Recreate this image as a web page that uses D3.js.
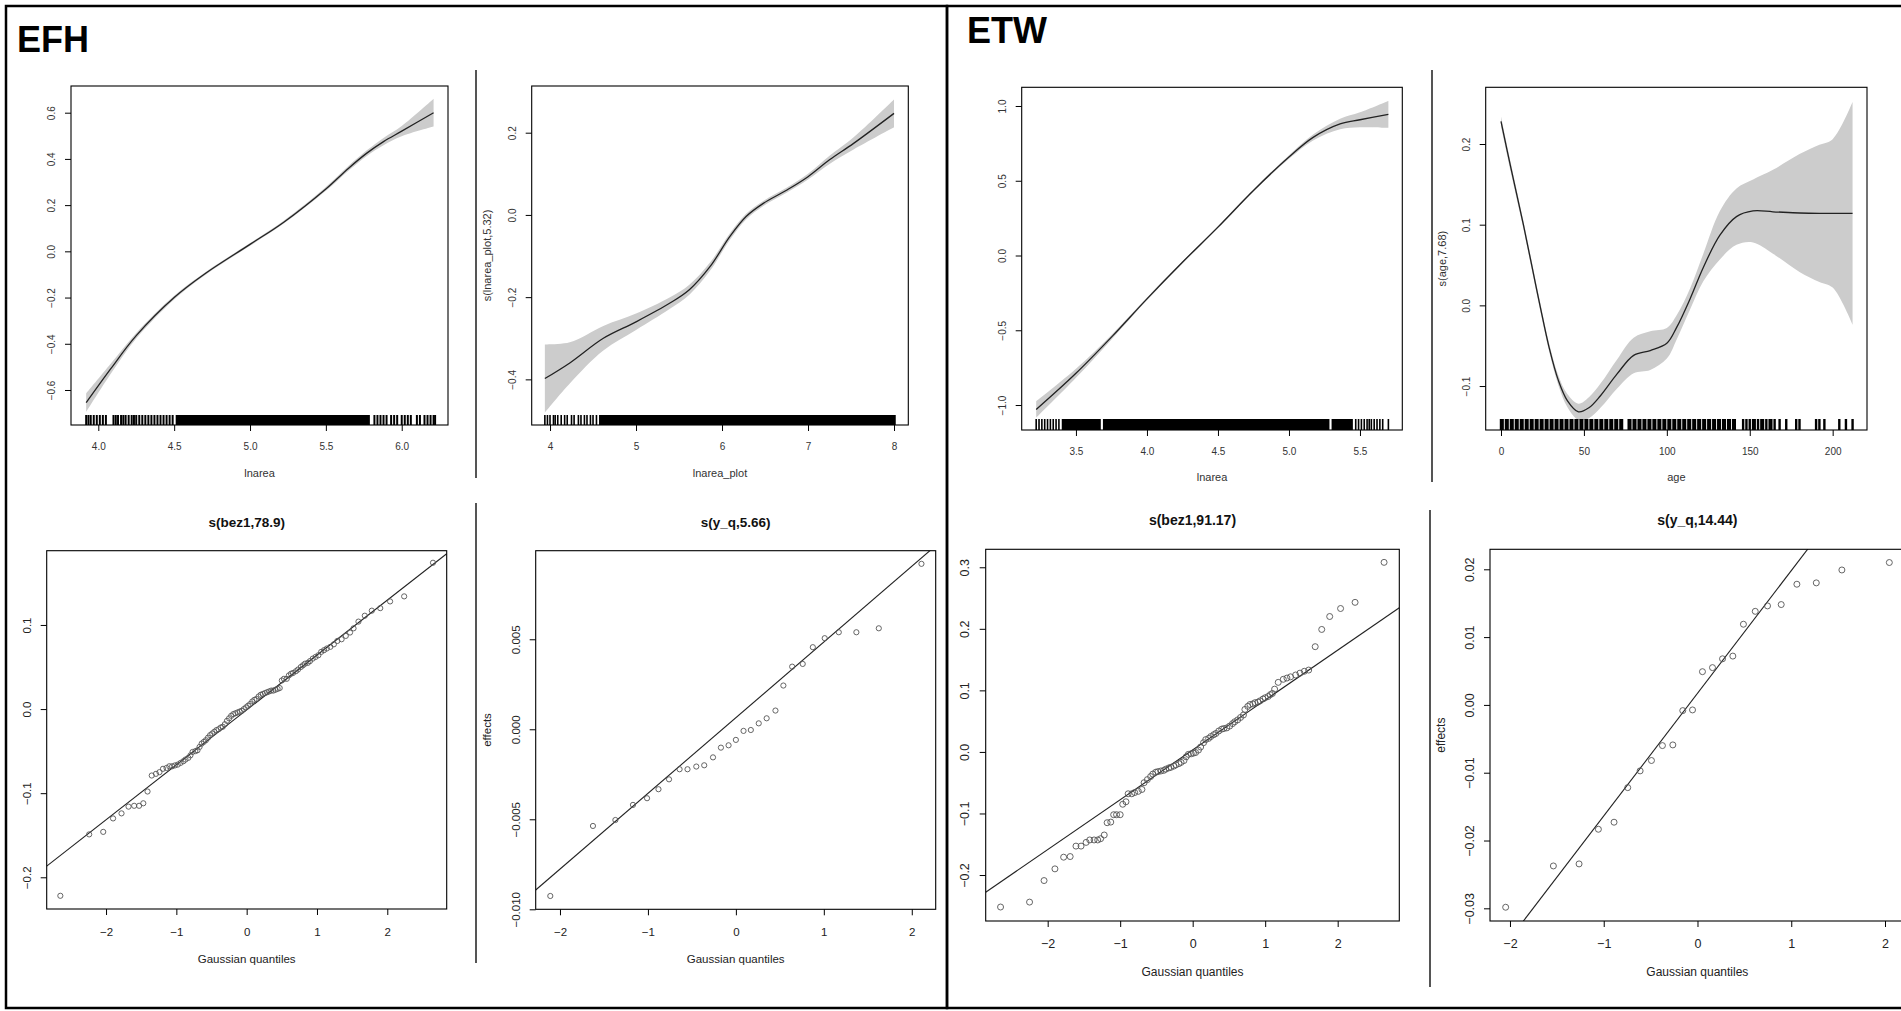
<!DOCTYPE html>
<html>
<head>
<meta charset="utf-8">
<script src="https://cdn.jsdelivr.net/npm/d3@7"></script>
<style>
  body { margin: 0; background: #fff; }
  svg { display: block; font-family: "Liberation Sans", Arial, sans-serif; }
</style>
</head>
<body>
<div id="main"></div>
<script>

// ---- EFH: s(lnarea) ----
var efhArea_x = [3.92, 4.08, 4.25, 4.5, 4.71, 5.0, 5.22, 5.5, 5.65, 5.77, 5.88, 6.0, 6.21];
var efhArea_fit = [-0.655, -0.51, -0.365, -0.2, -0.094, 0.03, 0.125, 0.27, 0.36, 0.425, 0.475, 0.52, 0.60];
var efhArea_se = [0.04, 0.022, 0.012, 0.008, 0.006, 0.006, 0.006, 0.008, 0.01, 0.012, 0.016, 0.022, 0.06];
var efhArea_rug = [3.92, 3.935, 3.95, 3.97, 3.99, 4.01, 4.03, 4.05, 4.10, 4.115, 4.13, 4.15, 4.165, 4.18, 4.20, 4.22,
  4.235, 4.25, 4.27, 4.29, 4.31, 4.33, 4.35, 4.37, 4.39, 4.41, 4.43, 4.45, 4.47, 4.49,
  5.82, 5.84, 5.86, 5.88, 5.90, 5.93, 5.95, 5.97, 6.0, 6.02, 6.04, 6.06, 6.10, 6.12, 6.15, 6.17, 6.19, 6.21, 6.22];
var efhArea_rugDense = [[4.51, 5.79]];
var efhArea_xTicks = [4.0, 4.5, 5.0, 5.5, 6.0];
var efhArea_yTicks = [-0.6, -0.4, -0.2, 0.0, 0.2, 0.4, 0.6];

// ---- EFH: s(lnarea_plot,5.32) ----
var efhPlot_x = [3.94, 4.23, 4.62, 5.0, 5.39, 5.62, 5.86, 6.09, 6.28, 6.48, 6.75, 7.0, 7.25, 7.53, 8.0];
var efhPlot_fit = [-0.398, -0.36, -0.30, -0.26, -0.215, -0.182, -0.126, -0.053, -0.004, 0.028, 0.06, 0.093, 0.134, 0.174, 0.247];
var efhPlot_se = [0.083, 0.05, 0.03, 0.02, 0.014, 0.012, 0.01, 0.008, 0.007, 0.006, 0.006, 0.007, 0.01, 0.015, 0.034];
var efhPlot_rug = [3.94, 3.97, 4.0, 4.04, 4.06, 4.09, 4.13, 4.17, 4.2, 4.25, 4.28, 4.33, 4.36, 4.4, 4.43, 4.47, 4.5, 4.54];
var efhPlot_rugDense = [[4.57, 8.02]];
var efhPlot_xTicks = [4, 5, 6, 7, 8];
var efhPlot_yTicks = [-0.4, -0.2, 0.0, 0.2];

// ---- ETW: s(lnarea) ----
var etwArea_x = [3.22, 3.5, 3.76, 4.0, 4.25, 4.5, 4.75, 5.0, 5.17, 5.36, 5.5, 5.7];
var etwArea_fit = [-1.03, -0.788, -0.536, -0.29, -0.045, 0.19, 0.435, 0.659, 0.79, 0.88, 0.908, 0.944];
var etwArea_se = [0.055, 0.03, 0.015, 0.01, 0.008, 0.008, 0.008, 0.012, 0.02, 0.035, 0.05, 0.09];
var etwArea_rug = [3.22, 3.24, 3.26, 3.28, 3.30, 3.32, 3.34, 3.36, 3.38,
  5.47, 5.49, 5.51, 5.53, 5.55, 5.565, 5.58, 5.60, 5.62, 5.64, 5.66, 5.70];
var etwArea_rugDense = [[3.40, 3.675], [3.69, 5.285], [5.30, 5.45]];
var etwArea_xTicks = [3.5, 4.0, 4.5, 5.0, 5.5];
var etwArea_yTicks = [-1.0, -0.5, 0.0, 0.5, 1.0];

// ---- ETW: s(age,7.68) ----
var etwAge_x = [0, 6, 13.5, 18, 23.5, 29, 34.6, 40, 46.7, 53, 60, 70, 80, 90, 100, 106, 114, 122, 132, 142, 152, 164, 180, 192, 200, 212];
var etwAge_fit = [0.228, 0.17, 0.10, 0.055, 0.0, -0.052, -0.093, -0.118, -0.132, -0.127, -0.112, -0.085, -0.062, -0.056, -0.047, -0.027,
  0.008, 0.047, 0.087, 0.11, 0.117, 0.116, 0.1145, 0.114, 0.114, 0.114];
var etwAge_se = [0.006, 0.006, 0.005, 0.005, 0.005, 0.005, 0.006, 0.008, 0.01, 0.013, 0.015, 0.018, 0.022, 0.024, 0.019, 0.015,
  0.013, 0.017, 0.03, 0.035, 0.039, 0.052, 0.073, 0.085, 0.092, 0.138];
var etwAge_rug = [0, 1, 3, 4, 6, 7, 9, 10, 12, 13, 15, 16, 18, 19, 21, 22, 24, 25, 27, 28, 30, 31, 33, 34, 36, 37, 39, 40, 42, 43,
  45, 46, 48, 49, 51, 52, 54, 55, 57, 58, 60, 61, 63, 64, 66, 67, 69, 70, 72, 73, 77, 78, 80, 81, 83, 84, 86, 87, 89, 90,
  92, 93, 95, 96, 98, 99, 101, 102, 104, 105, 107, 108, 110, 111, 113, 114, 116, 117, 119, 120, 122, 123, 125, 126, 128,
  129, 131, 132, 134, 135, 137, 138, 140, 141, 146, 148, 150, 152, 153, 155, 157, 158, 160, 162, 163, 165, 168, 172,
  178, 180, 190, 192, 195, 204, 208, 212];
var etwAge_xTicks = [0, 50, 100, 150, 200];
var etwAge_yTicks = [-0.1, 0.0, 0.1, 0.2];

// ---- QQ plots: [gaussian quantile, effect] ----
var efhBez = [[-2.65, -0.222], [-2.24, -0.149], [-2.04, -0.146], [-1.90, -0.130], [-1.78, -0.124], [-1.68, -0.116],
  [-1.60, -0.115], [-1.53, -0.115], [-1.47, -0.112], [-1.41, -0.098], [-1.35, -0.079], [-1.29, -0.077], [-1.24, -0.075],
  [-1.19, -0.071], [-1.14, -0.070], [-1.10, -0.068], [-1.06, -0.068], [-1.02, -0.067], [-0.98, -0.066], [-0.94, -0.064],
  [-0.90, -0.062], [-0.87, -0.060], [-0.83, -0.058], [-0.80, -0.055], [-0.77, -0.051], [-0.73, -0.050], [-0.70, -0.049],
  [-0.67, -0.045], [-0.64, -0.041], [-0.61, -0.039], [-0.58, -0.037], [-0.55, -0.034], [-0.52, -0.031], [-0.49, -0.029],
  [-0.46, -0.027], [-0.43, -0.025], [-0.40, -0.024], [-0.37, -0.022], [-0.34, -0.021], [-0.31, -0.018], [-0.28, -0.014],
  [-0.25, -0.011], [-0.22, -0.008], [-0.19, -0.006], [-0.16, -0.005], [-0.13, -0.004], [-0.10, -0.003], [-0.07, -0.002],
  [-0.04, 0.000], [-0.01, 0.002], [0.02, 0.004], [0.05, 0.006], [0.08, 0.009], [0.11, 0.011], [0.14, 0.012], [0.17, 0.015],
  [0.20, 0.017], [0.23, 0.018], [0.26, 0.019], [0.29, 0.020], [0.32, 0.021], [0.35, 0.022], [0.38, 0.022], [0.41, 0.023],
  [0.44, 0.024], [0.47, 0.025], [0.50, 0.034], [0.53, 0.036], [0.57, 0.036], [0.60, 0.040], [0.63, 0.042], [0.66, 0.043],
  [0.70, 0.045], [0.73, 0.047], [0.77, 0.050], [0.80, 0.052], [0.83, 0.054], [0.87, 0.055], [0.90, 0.057], [0.94, 0.060],
  [0.98, 0.062], [1.02, 0.064], [1.06, 0.068], [1.10, 0.070], [1.14, 0.072], [1.19, 0.074], [1.24, 0.077], [1.29, 0.081],
  [1.35, 0.083], [1.41, 0.087], [1.47, 0.091], [1.52, 0.096], [1.59, 0.104], [1.68, 0.111], [1.78, 0.117], [1.90, 0.120],
  [2.04, 0.128], [2.24, 0.134], [2.65, 0.174]];
var efhBez_line = [-0.001, 0.0653];

var efhYq = [[-2.11, -0.00926], [-1.625, -0.00537], [-1.37, -0.00504], [-1.17, -0.0042], [-1.01, -0.00383], [-0.88, -0.00333],
  [-0.76, -0.00278], [-0.64, -0.00222], [-0.55, -0.00222], [-0.45, -0.00207], [-0.36, -0.002], [-0.26, -0.00156],
  [-0.17, -0.00102], [-0.083, -0.00089], [0.0, -0.00059], [0.087, -0.00009], [0.17, -0.00004], [0.26, 0.00033],
  [0.35, 0.00061], [0.45, 0.00104], [0.54, 0.00243], [0.64, 0.00348], [0.76, 0.00363], [0.875, 0.00456], [1.01, 0.00506],
  [1.17, 0.00539], [1.37, 0.00539], [1.625, 0.00561], [2.11, 0.00919]];
var efhYq_line = [0.000645, 0.004205];

var etwBez = [[-2.65, -0.252], [-2.25, -0.244], [-2.05, -0.209], [-1.90, -0.190], [-1.78, -0.171], [-1.69, -0.170],
  [-1.61, -0.153], [-1.54, -0.153], [-1.47, -0.147], [-1.42, -0.143], [-1.36, -0.143], [-1.31, -0.143], [-1.27, -0.141],
  [-1.22, -0.135], [-1.18, -0.115], [-1.13, -0.114], [-1.09, -0.102], [-1.05, -0.102], [-1.00, -0.102], [-0.965, -0.085],
  [-0.92, -0.081], [-0.89, -0.068], [-0.84, -0.068], [-0.80, -0.066], [-0.75, -0.064], [-0.70, -0.061], [-0.67, -0.050],
  [-0.625, -0.045], [-0.58, -0.040], [-0.55, -0.036], [-0.51, -0.033], [-0.48, -0.032], [-0.44, -0.031], [-0.40, -0.030],
  [-0.37, -0.028], [-0.33, -0.026], [-0.30, -0.025], [-0.26, -0.023], [-0.23, -0.021], [-0.19, -0.019], [-0.16, -0.017],
  [-0.12, -0.014], [-0.09, -0.008], [-0.06, -0.004], [-0.02, -0.003], [0.01, -0.002], [0.04, -0.001], [0.08, 0.003],
  [0.11, 0.008], [0.15, 0.015], [0.18, 0.020], [0.22, 0.022], [0.25, 0.025], [0.29, 0.028], [0.32, 0.030], [0.36, 0.034],
  [0.40, 0.037], [0.43, 0.038], [0.47, 0.039], [0.51, 0.042], [0.55, 0.046], [0.58, 0.049], [0.62, 0.052], [0.66, 0.056],
  [0.70, 0.060], [0.72, 0.069], [0.76, 0.074], [0.79, 0.077], [0.83, 0.078], [0.86, 0.080], [0.90, 0.081], [0.93, 0.083],
  [0.97, 0.086], [1.00, 0.088], [1.04, 0.090], [1.07, 0.093], [1.10, 0.095], [1.13, 0.102], [1.18, 0.113], [1.25, 0.118],
  [1.30, 0.120], [1.35, 0.122], [1.42, 0.125], [1.48, 0.128], [1.54, 0.131], [1.60, 0.133], [1.69, 0.171], [1.78, 0.199],
  [1.89, 0.220], [2.04, 0.233], [2.24, 0.243], [2.64, 0.308]];
var etwBez_line = [0.0033, 0.081];

var etwYq = [[-2.046, -0.02984], [-1.537, -0.02375], [-1.263, -0.02345], [-1.057, -0.01834], [-0.89, -0.0173],
  [-0.744, -0.0122], [-0.612, -0.00973], [-0.491, -0.0082], [-0.374, -0.006], [-0.263, -0.0059], [-0.157, -0.00084],
  [-0.053, -0.00074], [0.053, 0.0049], [0.16, 0.0055], [0.267, 0.0068], [0.377, 0.0072], [0.49, 0.0119], [0.616, 0.0138],
  [0.747, 0.0146], [0.893, 0.0148], [1.06, 0.0178], [1.267, 0.018], [1.54, 0.0199], [2.046, 0.021]];
var etwYq_line = [0.00171, 0.01809];

var qqTicks = [-2, -1, 0, 1, 2];
var efhBez_yTicks = [-0.2, -0.1, 0.0, 0.1];
var efhYq_yTicks = [-0.010, -0.005, 0.000, 0.005];
var etwBez_yTicks = [-0.2, -0.1, 0.0, 0.1, 0.2, 0.3];
var etwYq_yTicks = [-0.03, -0.02, -0.01, 0.00, 0.01, 0.02];


var width = 1901, height = 1011;

var svg = d3.select('#main').append('svg').attr('width', width).attr('height', height);

// outer frames and group titles
svg.append('rect').attr('x', 6).attr('y', 6).attr('width', 941).attr('height', 1002)
  .attr('fill', 'none').attr('stroke', '#000').attr('stroke-width', 2.5);
svg.append('rect').attr('x', 947).attr('y', 6).attr('width', 1000).attr('height', 1002)
  .attr('fill', 'none').attr('stroke', '#000').attr('stroke-width', 2.5);

svg.append('text').attr('x', 17).attr('y', 52).attr('font-size', 36).attr('font-weight', 'bold').text('EFH');
svg.append('text').attr('x', 967).attr('y', 43).attr('font-size', 36).attr('font-weight', 'bold').text('ETW');

// grey separators between the pasted plots
var separators = [[476, 70, 478], [476, 503, 963], [1432, 70, 482], [1430, 510, 987]];
separators.forEach(function (s) {
  svg.append('line').attr('x1', s[0]).attr('x2', s[0]).attr('y1', s[1]).attr('y2', s[2])
    .attr('stroke', '#555').attr('stroke-width', 2);
});


function makePanel(p) {

  var x = d3.scaleLinear().domain(p.xDom).range([p.box[0], p.box[2]]);
  var y = d3.scaleLinear().domain(p.yDom).range([p.box[3], p.box[1]]);

  var g = svg.append('g');

  svg.append('clipPath').attr('id', 'clip' + p.id)
    .append('rect')
    .attr('x', p.box[0]).attr('y', p.box[1])
    .attr('width', p.box[2] - p.box[0]).attr('height', p.box[3] - p.box[1]);

  var plot = g.append('g').attr('clip-path', 'url(#clip' + p.id + ')');

  var xa = g.append('g')
    .attr('transform', 'translate(0,' + p.box[3] + ')')
    .call(d3.axisBottom(x).tickValues(p.xTicks).tickSize(6).tickFormat(p.xFmt));
  xa.select('.domain').remove();
  xa.attr('font-family', null).attr('font-size', null);
  xa.selectAll('line').attr('stroke', '#000');
  xa.selectAll('text').attr('y', p.xTickY).attr('dy', 0)
    .attr('font-size', p.tickFont).attr('fill', p.textColor);

  var ya = g.append('g')
    .attr('transform', 'translate(' + p.box[0] + ',0)')
    .call(d3.axisLeft(y).tickValues(p.yTicks).tickSize(6).tickFormat(p.yFmt));
  ya.select('.domain').remove();
  ya.attr('font-family', null).attr('font-size', null);
  ya.selectAll('line').attr('stroke', '#000');
  ya.selectAll('text').attr('x', 0).attr('y', -p.yTickX).attr('dy', 0)
    .attr('transform', 'rotate(-90)').attr('text-anchor', 'middle')
    .attr('font-size', p.tickFont).attr('fill', p.textColor);

  g.append('rect')
    .attr('x', p.box[0]).attr('y', p.box[1])
    .attr('width', p.box[2] - p.box[0]).attr('height', p.box[3] - p.box[1])
    .attr('fill', 'none').attr('stroke', '#000').attr('stroke-width', 1.1);

  var cx = (p.box[0] + p.box[2]) / 2;
  var cy = (p.box[1] + p.box[3]) / 2;

  g.append('text').attr('x', cx).attr('y', p.box[3] + p.xLabY)
    .attr('text-anchor', 'middle').attr('font-size', p.labFont).attr('fill', p.textColor)
    .text(p.xLab);

  if (p.yLab) {
    g.append('text')
      .attr('transform', 'translate(' + (p.box[0] - p.yLabX) + ',' + cy + ') rotate(-90)')
      .attr('text-anchor', 'middle').attr('font-size', p.labFont).attr('fill', p.textColor)
      .text(p.yLab);
  }

  if (p.title) {
    g.append('text').attr('x', cx).attr('y', p.box[1] - 24)
      .attr('text-anchor', 'middle').attr('font-size', p.titleFont).attr('font-weight', 'bold')
      .attr('fill', '#111')
      .text(p.title);
  }

  return {x: x, y: y, plot: plot};
}


function drawSmooth(p, xs, fit, se, rug, rugDense) {

  var s = makePanel(p);

  var rows = xs.map(function (v, i) {
    return {x: v, fit: fit[i], lo: fit[i] - se[i], hi: fit[i] + se[i]};
  });

  var band = d3.area()
    .x(function (d) { return s.x(d.x); })
    .y0(function (d) { return s.y(d.lo); })
    .y1(function (d) { return s.y(d.hi); })
    .curve(d3.curveCatmullRom.alpha(0.5));

  var line = d3.line()
    .x(function (d) { return s.x(d.x); })
    .y(function (d) { return s.y(d.fit); })
    .curve(d3.curveCatmullRom.alpha(0.5));

  s.plot.append('path').datum(rows).attr('d', band).attr('fill', '#cccccc');
  s.plot.append('path').datum(rows).attr('d', line)
    .attr('fill', 'none').attr('stroke', '#222').attr('stroke-width', 1.3);

  var bottom = p.box[3];

  s.plot.selectAll(null).data(rug).enter().append('line')
    .attr('x1', function (d) { return s.x(d); })
    .attr('x2', function (d) { return s.x(d); })
    .attr('y1', bottom)
    .attr('y2', bottom - p.rugLen)
    .attr('stroke', '#000')
    .attr('stroke-width', p.rugW);

  s.plot.selectAll(null).data(rugDense || []).enter().append('rect')
    .attr('x', function (d) { return s.x(d[0]); })
    .attr('width', function (d) { return s.x(d[1]) - s.x(d[0]); })
    .attr('y', bottom - p.rugLen)
    .attr('height', p.rugLen)
    .attr('fill', '#000');
}


function drawQQ(p, pts, ab) {

  var s = makePanel(p);

  var xd = s.x.domain();

  s.plot.append('line')
    .attr('x1', s.x(xd[0])).attr('y1', s.y(ab[0] + ab[1] * xd[0]))
    .attr('x2', s.x(xd[1])).attr('y2', s.y(ab[0] + ab[1] * xd[1]))
    .attr('stroke', '#222').attr('stroke-width', 1.1);

  s.plot.selectAll(null).data(pts).enter().append('circle')
    .attr('cx', function (d) { return s.x(d[0]); })
    .attr('cy', function (d) { return s.y(d[1]); })
    .attr('r', p.r)
    .attr('fill', 'none')
    .attr('stroke', '#555')
    .attr('stroke-width', 0.9);
}


var f1 = d3.format('.1f');

drawSmooth({
  id: 'A', box: [71, 86, 448, 425], xDom: [3.82, 6.305], yDom: [-0.7515, 0.7155],
  xTicks: efhArea_xTicks, yTicks: efhArea_yTicks, xFmt: f1, yFmt: f1,
  tickFont: 10, labFont: 11, textColor: '#333', xTickY: 24.5, yTickX: 16, xLabY: 52,
  xLab: 'lnarea', rugLen: 10, rugW: 2
}, efhArea_x, efhArea_fit, efhArea_se, efhArea_rug, efhArea_rugDense);

drawSmooth({
  id: 'B', box: [531.7, 86, 908.3, 425], xDom: [3.787, 8.166], yDom: [-0.511, 0.3136],
  xTicks: efhPlot_xTicks, yTicks: efhPlot_yTicks, xFmt: d3.format('d'), yFmt: f1,
  tickFont: 10, labFont: 11, textColor: '#333', xTickY: 24.5, yTickX: 16, xLabY: 52, yLabX: 41,
  xLab: 'lnarea_plot', yLab: 's(lnarea_plot,5.32)', rugLen: 10, rugW: 1.6
}, efhPlot_x, efhPlot_fit, efhPlot_se, efhPlot_rug, efhPlot_rugDense);

drawSmooth({
  id: 'C', box: [1021.7, 87.3, 1402.3, 430], xDom: [3.118, 5.798], yDom: [-1.167, 1.125],
  xTicks: etwArea_xTicks, yTicks: etwArea_yTicks, xFmt: f1, yFmt: f1,
  tickFont: 10, labFont: 11, textColor: '#333', xTickY: 24.5, yTickX: 16, xLabY: 51,
  xLab: 'lnarea', rugLen: 11, rugW: 1.6
}, etwArea_x, etwArea_fit, etwArea_se, etwArea_rug, etwArea_rugDense);

drawSmooth({
  id: 'D', box: [1485.7, 87.3, 1867, 430], xDom: [-9.22, 220.7], yDom: [-0.1545, 0.2703],
  xTicks: etwAge_xTicks, yTicks: etwAge_yTicks, xFmt: d3.format('d'), yFmt: f1,
  tickFont: 10, labFont: 11, textColor: '#333', xTickY: 24.5, yTickX: 16, xLabY: 51, yLabX: 40,
  xLab: 'age', yLab: 's(age,7.68)', rugLen: 11, rugW: 2.4
}, etwAge_x, etwAge_fit, etwAge_se, etwAge_rug, []);

drawQQ({
  id: 'E', box: [46.7, 550.7, 446.7, 909], xDom: [-2.844, 2.845], yDom: [-0.2377, 0.1883],
  xTicks: qqTicks, yTicks: efhBez_yTicks, xFmt: d3.format('d'), yFmt: f1,
  tickFont: 11.5, labFont: 11.5, textColor: '#222', xTickY: 27, yTickX: 16, xLabY: 54,
  xLab: 'Gaussian quantiles', title: 's(bez1,78.9)', titleFont: 13.5, r: 2.6
}, efhBez, efhBez_line);

drawQQ({
  id: 'F', box: [535.7, 550.7, 935.7, 909.3], xDom: [-2.276, 2.272], yDom: [-0.0100, 0.00992],
  xTicks: qqTicks, yTicks: efhYq_yTicks, xFmt: d3.format('d'), yFmt: d3.format('.3f'),
  tickFont: 11.5, labFont: 11.5, textColor: '#222', xTickY: 27, yTickX: 16, xLabY: 54, yLabX: 45,
  xLab: 'Gaussian quantiles', yLab: 'effects', title: 's(y_q,5.66)', titleFont: 13.5, r: 2.6
}, efhYq, efhYq_line);

drawQQ({
  id: 'G', box: [985.7, 549.3, 1399.3, 921], xDom: [-2.855, 2.850], yDom: [-0.2747, 0.3292],
  xTicks: qqTicks, yTicks: etwBez_yTicks, xFmt: d3.format('d'), yFmt: f1,
  tickFont: 12.5, labFont: 12, textColor: '#222', xTickY: 27, yTickX: 16.5, xLabY: 55,
  xLab: 'Gaussian quantiles', title: 's(bez1,91.17)', titleFont: 14, r: 3
}, etwBez, etwBez_line);

drawQQ({
  id: 'H', box: [1490, 549.3, 1904.7, 921], xDom: [-2.213, 2.21], yDom: [-0.03187, 0.02295],
  xTicks: qqTicks, yTicks: etwYq_yTicks, xFmt: d3.format('d'), yFmt: d3.format('.2f'),
  tickFont: 12.5, labFont: 12, textColor: '#222', xTickY: 27, yTickX: 16.5, xLabY: 55, yLabX: 45,
  xLab: 'Gaussian quantiles', yLab: 'effects', title: 's(y_q,14.44)', titleFont: 14, r: 3
}, etwYq, etwYq_line);

</script>
</body>
</html>
